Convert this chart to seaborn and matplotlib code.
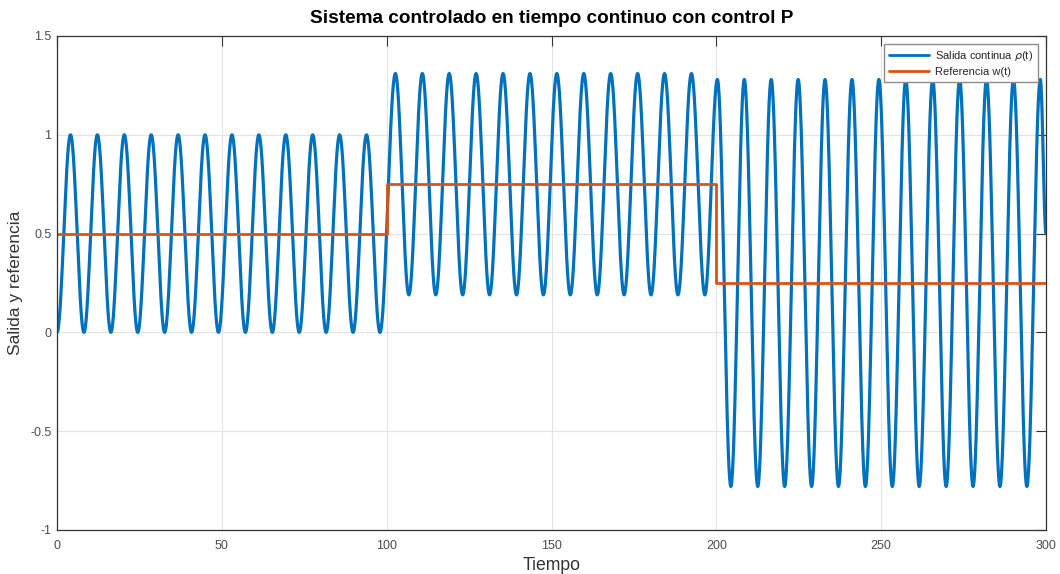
import numpy as np
import pandas as pd
import matplotlib
matplotlib.use('Agg')
import matplotlib.pyplot as plt
import seaborn as sns

# Extremos (tiempo, valor)
peak_t = [4.08, 12.24, 20.41, 28.57, 36.73, 44.90, 53.06, 61.22, 69.39, 77.55, 85.71, 93.88,
          102.64, 110.81, 118.97, 127.13, 135.30, 143.46, 151.62, 159.79, 167.95, 176.12, 184.28, 192.44,
          200.32, 208.48, 216.64, 224.81, 232.97, 241.14, 249.30, 257.46, 265.63, 273.79, 281.95, 290.12, 298.28]
peak_y = [1.00] * 12 + [1.31] * 12 + [1.28] * 13
trough_t = [0.0, 8.16, 16.33, 24.49, 32.65, 40.82, 48.98, 57.14, 65.31, 73.47, 81.63, 89.80, 97.96,
            106.72, 114.88, 123.05, 131.21, 139.38, 147.54, 155.70, 163.87, 172.03, 180.19, 188.36, 196.52,
            204.40, 212.56, 220.73, 228.89, 237.05, 245.22, 253.38, 261.54, 269.71, 277.87, 286.03, 294.20]
trough_y = [0.00] * 13 + [0.19] * 12 + [-0.78] * 12
end_t, end_y = 300.0, 0.50

# Referencia escalonada
ref_t = [0, 100, 200, 300]
ref_w = [0.5, 0.75, 0.25, 0.25]

xticks = [0, 50, 100, 150, 200, 250, 300]
yticks = [-1, -0.5, 0, 0.5, 1, 1.5]
ytick_labels = ['-1', '-0.5', '0', '0.5', '1', '1.5']

# unir los extremos con arcos suaves (medio coseno)
ext = sorted(zip(peak_t + trough_t + [end_t], peak_y + trough_y + [end_y]))
tt, yy = [], []
for (t0, y0), (t1, y1) in zip(ext[:-1], ext[1:]):
    s = np.linspace(0, 1, 40, endpoint=False)
    tt.extend(t0 + (t1 - t0) * s)
    yy.extend(y0 + (y1 - y0) * (1 - np.cos(np.pi * s)) / 2)
tt.append(ext[-1][0])
yy.append(ext[-1][1])
df = pd.DataFrame({'t': tt, 'y': yy})
df_ref = pd.DataFrame({'t': ref_t, 'w': ref_w})

sns.set_style('whitegrid')
plt.rcParams['font.family'] = ['Liberation Sans', 'DejaVu Sans']

fig, ax = plt.subplots(figsize=(10.6, 5.74), dpi=100)
fig.subplots_adjust(left=0.0538, right=0.9868, bottom=0.0767, top=0.9373)

sns.lineplot(data=df, x='t', y='y', color='#0072BD', linewidth=2.3, sort=False, estimator=None,
             label='Salida continua $\\rho$(t)', ax=ax)
sns.lineplot(data=df_ref, x='t', y='w', color='#D95319', linewidth=2.0, sort=False, estimator=None,
             drawstyle='steps-post', label='Referencia w(t)', ax=ax)

ax.set_xlim(0, 300)
ax.set_ylim(-1, 1.5)
ax.set_xticks(xticks)
ax.set_yticks(yticks)
ax.set_yticklabels(ytick_labels)
ax.grid(True, color='#e3e3e3', linewidth=0.8)
for sp in ax.spines.values():
    sp.set_color('#333333')
    sp.set_linewidth(0.9)
ax.tick_params(direction='in', top=True, right=True, length=7, width=0.8,
               labelsize=9, colors='#333333', labelcolor='#4d4d4d')
ax.tick_params(axis='x', pad=7)
ax.tick_params(axis='y', pad=4)

ax.set_title('Sistema controlado en tiempo continuo con control P', fontsize=13.7,
             fontweight='bold', color='black', pad=9)
ax.set_xlabel('Tiempo', fontsize=12.7, color='#333333', labelpad=4)
ax.set_ylabel('Salida y referencia', fontsize=12.5, color='#333333', labelpad=5)

leg = ax.legend(loc='upper right', fontsize=8, frameon=True, fancybox=False, edgecolor='#8c8c8c',
                framealpha=1, handlelength=3.6, handletextpad=0.5, borderaxespad=0.75,
                borderpad=0.45, labelspacing=0.35)
for ln in leg.get_lines():
    ln.set_linewidth(2.0)

fig.savefig('out.png', dpi=100)
